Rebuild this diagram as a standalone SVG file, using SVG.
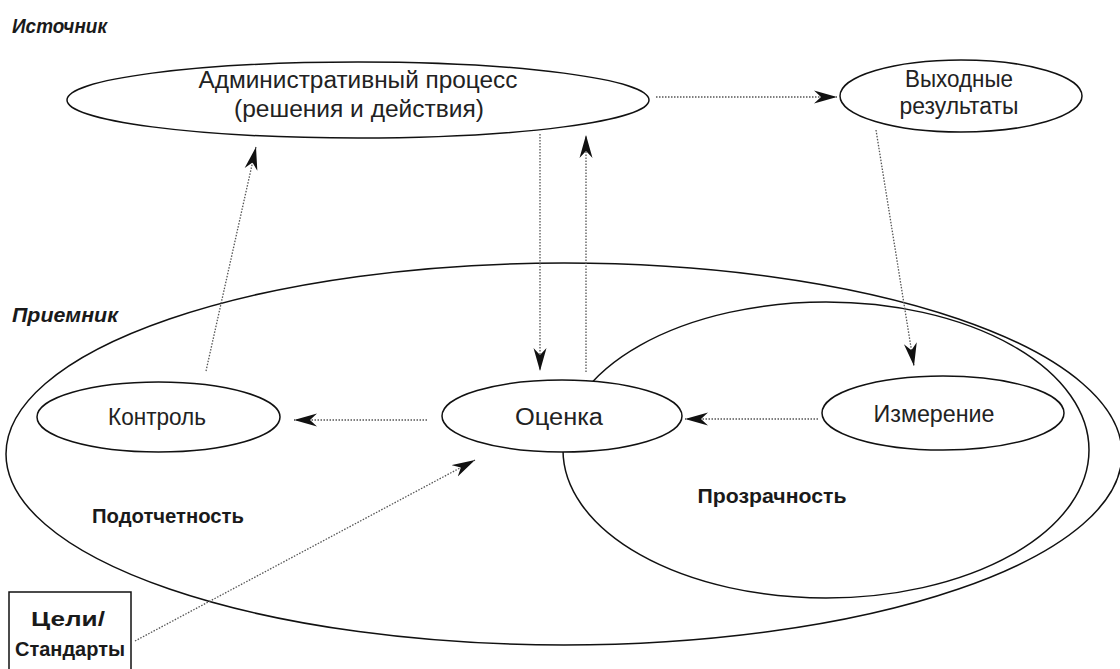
<svg xmlns="http://www.w3.org/2000/svg" width="1120" height="669" viewBox="0 0 1120 669">
<style>
.e{fill:none;stroke:#111;stroke-width:1.5}
.n{fill:#fff;stroke:#111;stroke-width:1.5}
.t{font-family:"Liberation Sans",Arial,sans-serif;font-size:23px;fill:#222;text-anchor:middle}
.b{font-family:"Liberation Sans",Arial,sans-serif;font-size:21px;font-weight:bold;fill:#1a1a1a;text-anchor:middle}
.h{font-family:"Liberation Sans",Arial,sans-serif;font-size:21px;font-weight:bold;font-style:italic;fill:#1a1a1a}
.c{fill:none;stroke:#555;stroke-width:1.3;stroke-dasharray:1.5 1.5;marker-end:url(#ah)}
</style>
<defs>
<marker id="ah" markerUnits="userSpaceOnUse" markerWidth="24" markerHeight="14" viewBox="0 0 24 14" refX="23" refY="7" orient="auto">
<path d="M0,0.5 L23,7 L0,13.5 L7,7 Z" fill="#111"/>
</marker>
</defs>
<rect width="1120" height="669" fill="#fff"/>
<g id="labels">
<text class="h" x="12" y="33" textLength="95" lengthAdjust="spacingAndGlyphs">Источник</text>
<text class="h" x="12" y="322" textLength="106" lengthAdjust="spacingAndGlyphs">Приемник</text>
</g>
<g id="receiver">
<ellipse class="e" cx="564" cy="454" rx="558" ry="191"/>
<text class="b" x="168" y="523" textLength="152" lengthAdjust="spacingAndGlyphs">Подотчетность</text>
</g>
<g id="transparency">
<ellipse class="e" cx="826" cy="450" rx="263" ry="148"/>
<text class="b" x="772" y="503" textLength="149" lengthAdjust="spacingAndGlyphs">Прозрачность</text>
</g>
<g id="admin">
<ellipse class="n" cx="358" cy="100" rx="291" ry="38"/>
<text class="t" x="358" y="88" textLength="319" lengthAdjust="spacingAndGlyphs">Административный процесс</text>
<text class="t" x="359" y="117" textLength="250" lengthAdjust="spacingAndGlyphs">(решения и действия)</text>
</g>
<g id="outputs">
<ellipse class="n" cx="961" cy="96" rx="121" ry="36"/>
<text class="t" x="959" y="87" textLength="108" lengthAdjust="spacingAndGlyphs">Выходные</text>
<text class="t" x="959" y="114" textLength="119" lengthAdjust="spacingAndGlyphs">результаты</text>
</g>
<g id="control">
<ellipse class="n" cx="158.5" cy="417" rx="121.5" ry="35"/>
<text class="t" x="157" y="425" textLength="98" lengthAdjust="spacingAndGlyphs">Контроль</text>
</g>
<g id="evaluation">
<ellipse class="n" cx="562" cy="416" rx="120" ry="36"/>
<text class="t" x="559" y="425" textLength="88" lengthAdjust="spacingAndGlyphs">Оценка</text>
</g>
<g id="measurement">
<ellipse class="n" cx="943" cy="413" rx="121" ry="37"/>
<text class="t" x="934" y="422" textLength="121" lengthAdjust="spacingAndGlyphs">Измерение</text>
</g>
<g id="goals">
<rect x="9" y="592" width="122" height="90" fill="#fff" stroke="#111" stroke-width="1.5"/>
<text class="b" x="68" y="626" font-size="22" textLength="74" lengthAdjust="spacingAndGlyphs">Цели/</text>
<text class="b" x="70" y="656" font-size="22" textLength="110" lengthAdjust="spacingAndGlyphs">Стандарты</text>
</g>
<g id="connectors">
<line class="c" x1="656" y1="97" x2="837" y2="97"/>
<line class="c" x1="540" y1="134" x2="540" y2="371"/>
<line class="c" x1="586" y1="372" x2="586" y2="135"/>
<line class="c" x1="206" y1="371" x2="256" y2="147"/>
<line class="c" x1="876" y1="130" x2="914" y2="366"/>
<line class="c" x1="818" y1="419" x2="685" y2="419"/>
<line class="c" x1="427" y1="420" x2="294" y2="420"/>
<line class="c" x1="135" y1="641" x2="475" y2="460"/>
</g>
</svg>
